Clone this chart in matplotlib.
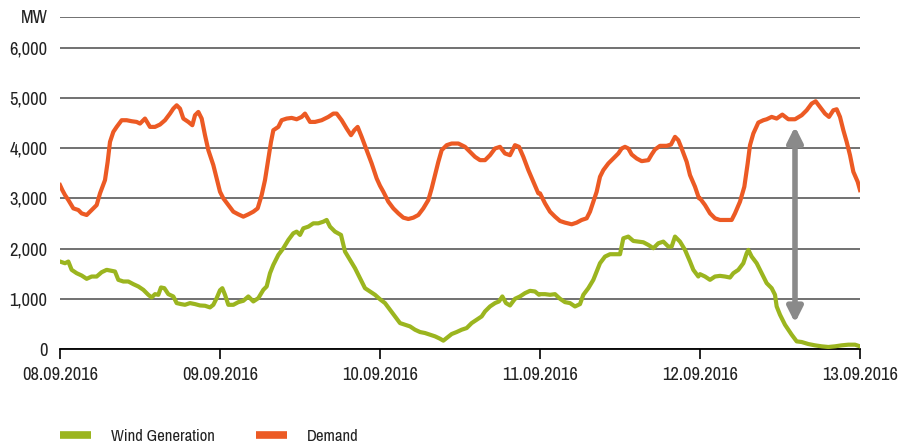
import matplotlib
matplotlib.use("Agg")
import matplotlib.pyplot as plt
from matplotlib import font_manager
from matplotlib.lines import Line2D
import numpy as np

# ---- pick a condensed font if one is installed ----
entries = font_manager.fontManager.ttflist
names = {f.name for f in entries}
FONT, STRETCH, FS = None, "normal", 13.3
for pref in ["Liberation Sans Narrow"]:
    if pref in names:
        FONT = pref
if FONT is None:
    for f in entries:
        if ("Narrow" in f.name or "Condensed" in f.name) and f.style == "normal":
            FONT = f.name
            break
if FONT is None:
    for f in entries:
        if f.name == "DejaVu Sans" and str(f.stretch) in ("condensed", "semi-condensed", "75", "87.5") :
            FONT, STRETCH = "DejaVu Sans", "condensed"
            break
if FONT is None:
    FONT, FS = "Liberation Sans", 11.6
plt.rcParams["font.family"] = [FONT, "DejaVu Sans"]
plt.rcParams["font.stretch"] = STRETCH
LEG_FS = FS * 0.9

# ---- data (hours since 08.09.2016 00:00, MW) ----
demand_hours = [0, 0.35, 0.75, 1.25, 2, 2.75, 3.25, 4, 4.75, 5.5, 6, 6.75, 7.15, 7.5, 8, 8.5, 9.25, 10, 10.75, 11.5, 12, 12.75, 13.5, 14.25, 15, 15.75, 16.5, 17, 17.5, 18, 18.5, 19.25, 19.85, 20.25, 20.75, 21.25, 21.75, 22.25, 23, 23.5,
                24, 24.5, 25.25, 26, 26.75, 27.5, 28.25, 29, 29.65, 30.25, 30.75, 31.25, 31.65, 32, 32.75, 33.25, 34, 34.75, 35.5, 36.25, 36.75, 37.5, 38.25, 39.25, 40.25, 41, 41.5, 42.25, 43, 43.65, 44.15, 44.65, 45.25, 46, 46.75, 47.5,
                48, 48.5, 49.25, 50, 50.75, 51.5, 52.25, 53, 53.75, 54.5, 55.25, 55.75, 56.25, 56.75, 57.25, 58, 58.75, 59.75, 60.75, 61.5, 62.25, 63, 63.75, 64.5, 65.25, 66, 66.75, 67.5, 68.25, 68.85, 69.5, 70.25, 71, 71.75,
                72, 72.75, 73.5, 74.25, 75, 75.75, 76.75, 77.5, 78.25, 79, 79.5, 80, 80.5, 81, 81.5, 82.25, 83, 83.75, 84.25, 84.75, 85.25, 85.75, 86.5, 87.25, 88.25, 88.75, 89.25, 90, 91, 91.65, 92.25, 92.75, 93.25, 94, 94.5, 95.25, 95.85,
                96, 96.75, 97.5, 98.25, 99, 99.75, 100.75, 101.25, 102, 102.65, 103.15, 103.5, 104, 104.75, 105.5, 106, 106.75, 107.5, 108.35, 109.25, 110.25, 111.25, 112, 112.75, 113.35, 114, 114.75, 115.35, 116, 116.5, 117, 117.5, 118, 118.5, 119, 119.65, 120]
demand_mw = [3264, 3164, 3065, 2966, 2800, 2767, 2700, 2668, 2767, 2866, 3098, 3363, 3727, 4124, 4323, 4422, 4555, 4555, 4535, 4521, 4488, 4588, 4422, 4422, 4469, 4555, 4687, 4786, 4852, 4786, 4588, 4521, 4455, 4654, 4720, 4588, 4257, 3959, 3661, 3396,
             3131, 2999, 2866, 2734, 2681, 2635, 2681, 2734, 2800, 3065, 3363, 3793, 4124, 4356, 4422, 4555, 4588, 4601, 4574, 4621, 4687, 4521, 4521, 4555, 4621, 4687, 4687, 4555, 4389, 4257, 4356, 4422, 4223, 3959, 3694, 3396,
             3250, 3131, 2933, 2800, 2701, 2615, 2588, 2615, 2668, 2800, 2966, 3197, 3462, 3727, 3959, 4058, 4091, 4091, 4025, 3926, 3826, 3760, 3760, 3859, 3992, 4025, 3893, 3859, 4058, 4025, 3826, 3562, 3330, 3098,
             3100, 2900, 2734, 2635, 2549, 2516, 2483, 2516, 2569, 2602, 2734, 2933, 3131, 3429, 3562, 3694, 3793, 3893, 3992, 4025, 3992, 3873, 3793, 3740, 3760, 3873, 3972, 4045, 4045, 4071, 4224, 4157, 3992, 3727, 3462, 3231, 2999,
             3000, 2866, 2701, 2602, 2569, 2569, 2569, 2701, 2933, 3231, 3694, 4058, 4290, 4508, 4555, 4574, 4621, 4588, 4667, 4574, 4574, 4654, 4753, 4886, 4932, 4819, 4687, 4621, 4753, 4773, 4621, 4356, 4124, 3859, 3529, 3330, 3164]

wind_hours = [0, 0.75, 1.25, 1.75, 2.5, 3.25, 4, 4.75, 5.5, 6.25, 7, 7.75, 8.25, 8.75, 9.5, 10.25, 11, 11.75, 12.5, 13.25, 13.75, 14.25, 14.75, 15.15, 15.65, 16.25, 17, 17.5, 18.15, 18.75, 19.5, 20.25, 21, 21.75, 22.5, 23, 23.5,
              24, 24.35, 24.75, 25.25, 26, 26.75, 27.5, 28.25, 29, 29.75, 30.5, 31, 31.5, 32, 32.75, 33.5, 34.25, 35, 35.5, 36, 36.5, 37.25, 38, 38.75, 39.5, 40, 40.5, 41.25, 42.15, 42.75, 43.5, 44.25, 45, 45.75, 46.5, 47.25,
              48, 48.75, 49.5, 50.25, 51, 51.75, 52.5, 53.25, 54, 54.75, 55.5, 56.25, 57, 57.5, 58, 58.75, 59.5, 60.25, 61, 61.75, 62.5, 63.25, 63.75, 64.5, 65.25, 65.85, 66.35, 66.9, 67.5, 68.25, 69, 69.75, 70.5, 71.25, 71.85,
              72, 72.75, 73.5, 74.25, 75, 75.75, 76.5, 77.25, 78, 78.5, 79.25, 80, 80.5, 81, 81.75, 82.5, 83.25, 84, 84.5, 85.25, 86, 86.75, 87.5, 88.25, 89, 89.75, 90.5, 91.25, 91.75, 92.25, 93, 93.75, 94.5, 95, 95.75,
              96, 96.75, 97.5, 98.25, 99, 99.75, 100.5, 101, 101.75, 102.5, 103, 103.25, 103.75, 104.5, 105.25, 106, 106.75, 107.25, 107.5, 108, 108.75, 109.25, 109.75, 110.5, 111.25, 112.25, 113.25, 114.25, 115.25, 116.25, 117.25, 118.25, 119.25, 120]
wind_mw = [1741, 1708, 1741, 1576, 1509, 1463, 1397, 1443, 1443, 1529, 1576, 1556, 1543, 1377, 1344, 1344, 1291, 1245, 1178, 1079, 1026, 1092, 1079, 1225, 1211, 1092, 1046, 914, 894, 880, 914, 894, 867, 861, 828, 880, 1013,
           1170, 1211, 1079, 880, 880, 933, 960, 1046, 947, 1013, 1178, 1245, 1509, 1675, 1873, 2006, 2171, 2304, 2337, 2271, 2403, 2436, 2502, 2502, 2535, 2569, 2436, 2337, 2271, 1940, 1774, 1609, 1410, 1211, 1145, 1079,
           990, 914, 781, 649, 516, 483, 450, 384, 338, 318, 285, 252, 205, 166, 218, 298, 338, 384, 417, 516, 583, 649, 748, 847, 914, 947, 1046, 914, 867, 1000, 1046, 1112, 1158, 1145, 1079,
           1092, 1092, 1079, 1092, 1000, 933, 914, 847, 894, 1079, 1211, 1377, 1543, 1708, 1840, 1887, 1887, 1887, 2204, 2238, 2151, 2138, 2125, 2072, 2006, 2105, 2138, 2039, 2039, 2238, 2138, 1973, 1741, 1576, 1443,
           1490, 1443, 1377, 1443, 1456, 1443, 1423, 1509, 1576, 1708, 1906, 1973, 1840, 1708, 1509, 1311, 1211, 1079, 847, 682, 483, 384, 285, 152, 139, 99, 73, 53, 40, 53, 73, 86, 86, 53]

date_labels = ["08.09.2016", "09.09.2016", "10.09.2016", "11.09.2016", "12.09.2016", "13.09.2016"]
y_ticks = [0, 1000, 2000, 3000, 4000, 5000, 6000]
y_max = 6620
gap_hour = 110.25          # position of the gap arrow (hours)
gap_top, gap_bottom = 4430, 520

GREEN = "#9bb51f"
ORANGE = "#ec5a24"
GRID = "#4a4a4a"

fig = plt.figure(figsize=(9.02, 4.47), dpi=100)
ax = fig.add_axes([60 / 902, 1 - 349 / 447, 800 / 902, (349 - 16.5) / 447])

days_w = np.array(wind_hours) / 24.0
days_d = np.array(demand_hours) / 24.0
ax.plot(days_d, demand_mw, color=ORANGE, lw=3.0, solid_joinstyle="round", zorder=3)
ax.plot(days_w, wind_mw, color=GREEN, lw=3.0, solid_joinstyle="round", zorder=3)

ax.annotate("", xy=(gap_hour / 24, gap_bottom), xytext=(gap_hour / 24, gap_top),
            arrowprops=dict(arrowstyle="<|-|>,head_width=0.45,head_length=0.9",
                            color="#8a8a8a", lw=4, shrinkA=0, shrinkB=0), zorder=4)

ax.set_xlim(0, 5)
ax.set_ylim(0, y_max)
ax.set_xticks(range(len(date_labels)))
ax.set_xticklabels(date_labels, fontsize=FS, color="#222222")
ax.set_yticks(y_ticks + [y_max])
ax.set_yticklabels([f"{v:,}" for v in y_ticks] + ["MW"], fontsize=FS, color="#222222")
ax.tick_params(axis="y", length=0, pad=9)
ax.tick_params(axis="x", length=7, width=1.2, color="black", pad=6, direction="out")
ax.yaxis.grid(True, color=GRID, lw=1.1)
ax.set_axisbelow(True)
for s in ["left", "right", "top"]:
    ax.spines[s].set_visible(False)
ax.spines["bottom"].set_color("black")
ax.spines["bottom"].set_linewidth(1.3)
ax.spines["bottom"].set_zorder(2.5)

px = LEG_FS * 100 / 72.0   # legend font size in pixels
handles = [Line2D([], [], color=GREEN, lw=5.5, solid_capstyle="butt"),
           Line2D([], [], color=ORANGE, lw=5.5, solid_capstyle="butt")]
fig.legend(handles, ["Wind Generation", "Demand"], loc="lower left",
           bbox_to_anchor=(60 / 902, 3 / 447), ncol=2, frameon=False,
           borderpad=0, borderaxespad=0,
           fontsize=LEG_FS, handlelength=31 / px, handletextpad=20 / px,
           columnspacing=41 / px, labelcolor="#222222")

fig.savefig("out.png", dpi=100)
